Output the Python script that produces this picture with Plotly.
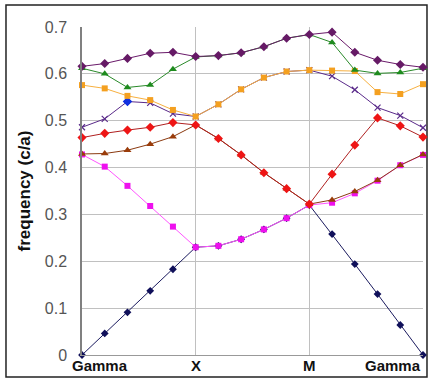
import plotly.graph_objects as go

# k-path index (Gamma -> X -> M -> Gamma), 5 steps per segment
k_index = list(range(16))
tick_pos = [0, 5, 10, 15]
tick_labels = ["Gamma", "X", "M", "Gamma"]
y_ticks = [0, 0.1, 0.2, 0.3, 0.4, 0.5, 0.6, 0.7]
y_tick_labels = ["0", "0.1", "0.2", "0.3", "0.4", "0.5", "0.6", "0.7"]

band1 = [0.0, 0.046, 0.091, 0.137, 0.183, 0.230, 0.233, 0.247, 0.268, 0.292, 0.320, 0.258, 0.194, 0.130, 0.064, 0.0]
band2 = [0.428, 0.402, 0.361, 0.318, 0.274, 0.230, 0.233, 0.247, 0.268, 0.292, 0.320, 0.325, 0.345, 0.372, 0.405, 0.427]
band3 = [0.429, 0.430, 0.437, 0.450, 0.466, 0.491, 0.462, 0.427, 0.389, 0.355, 0.322, 0.331, 0.349, 0.373, 0.405, 0.428]
band4 = [0.464, 0.473, 0.480, 0.486, 0.496, 0.491, 0.462, 0.427, 0.389, 0.355, 0.322, 0.386, 0.448, 0.506, 0.489, 0.465]
band5 = [0.486, 0.504, 0.541, 0.538, 0.515, 0.509, 0.535, 0.567, 0.592, 0.605, 0.608, 0.595, 0.566, 0.528, 0.511, 0.485]
band6 = [0.576, 0.569, 0.553, 0.544, 0.523, 0.509, 0.535, 0.567, 0.592, 0.605, 0.608, 0.607, 0.606, 0.561, 0.557, 0.578]
band7 = [0.612, 0.600, 0.571, 0.576, 0.610, 0.636, 0.639, 0.645, 0.658, 0.676, 0.684, 0.667, 0.608, 0.601, 0.603, 0.612]
band8 = [0.616, 0.622, 0.633, 0.644, 0.646, 0.637, 0.639, 0.645, 0.658, 0.676, 0.684, 0.689, 0.646, 0.629, 0.620, 0.614]

fig = go.Figure()

def add_band(y, line_color, marker_color, symbol, size, mline=None):
    fig.add_trace(go.Scatter(
        x=k_index, y=y, mode="lines+markers",
        line=dict(color=line_color, width=1),
        marker=dict(color=marker_color, symbol=symbol, size=size,
                    line=dict(width=0) if mline is None else mline),
        showlegend=False, cliponaxis=False,
    ))

add_band(band1, "#1a1a5e", "#10105a", "diamond", 6)
add_band(band2, "#ff55ff", "#ee10ee", "square", 6)
add_band(band3, "#8b3a10", "#9a3c0a", "triangle-up", 7)
add_band(band4, "#b02020", "#ee1515", "diamond", 7)
sym5 = ["x-thin"] * 16
sym5[2] = "diamond"
col5 = ["#5a2a8a"] * 16
col5[2] = "#1030e0"
add_band(band5, "#5a2a8a", col5, sym5, 6, mline=dict(width=1.2, color=col5))
add_band(band6, "#f7b040", "#f4a020", "square", 6)
add_band(band7, "#2a8a2a", "#1e8b1e", "triangle-up", 7)
add_band(band8, "#6a1a6a", "#661a66", "diamond", 7)

for pos, lab in zip(tick_pos, tick_labels):
    if pos == tick_pos[0]:
        anchor, shift = "left", -12
    elif pos == tick_pos[-1]:
        anchor, shift = "right", 0
    else:
        anchor, shift = "center", 0
    fig.add_annotation(x=pos, y=0, xref="x", yref="y", text="<b>" + lab + "</b>", showarrow=False,
                       xanchor=anchor, yanchor="top", xshift=shift, yshift=0,
                       font=dict(family="Liberation Sans, Arial", size=15, color="#111"))

# outer frame
fig.add_shape(type="rect", xref="paper", yref="paper",
              x0=-0.2229, x1=1.0117, y0=-0.067, y1=1.067,
              line=dict(color="#222", width=1.5), layer="below")

fig.update_layout(
    width=428, height=378,
    margin=dict(l=82, r=5, t=27, b=23, autoexpand=False),
    paper_bgcolor="white", plot_bgcolor="white",
    font=dict(family="Liberation Sans, Arial", color="#333"),
    xaxis=dict(range=[0, 15], tickvals=tick_pos, ticktext=[""] * 4,
               showgrid=True, gridcolor="#c0c0c0", gridwidth=1,
               showline=True, linecolor="#999", linewidth=1, mirror=False,
               zeroline=False, ticks="", automargin=False),
    yaxis=dict(range=[0, 0.7], tickvals=y_ticks, ticktext=y_tick_labels,
               showgrid=True, gridcolor="#c0c0c0", gridwidth=1,
               showline=True, linecolor="#808080", linewidth=1.5,
               zeroline=False, ticks="", ticklabelstandoff=10, automargin=False,
               tickfont=dict(size=16, color="#555"),
               title=dict(text="<b>frequency (c/a)</b>", standoff=10,
                          font=dict(size=17, color="#111"))),
)

fig.write_html("out.html", config={"displayModeBar": False},
               post_script="document.body.style.margin='0';")
